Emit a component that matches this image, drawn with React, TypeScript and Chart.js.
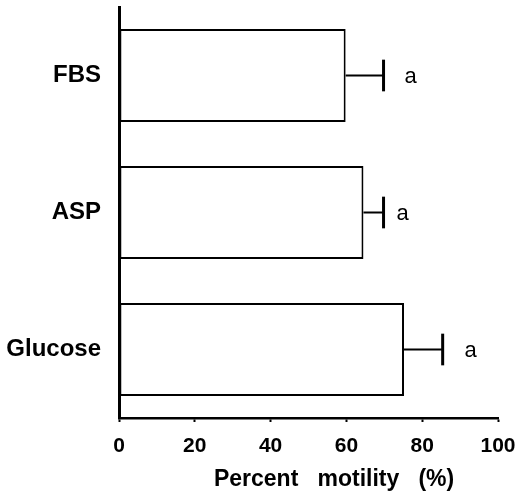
import { useEffect, useRef } from 'react';
import { Chart, registerables } from 'chart.js';

Chart.register(...registerables);

const categories = ['FBS', 'ASP', 'Glucose'];
const motility = [59.8, 64.5, 75.2];
const errors = [10, 5.3, 10.2];
const significance = ['a', 'a', 'a'];
const xTicks = [0, 20, 40, 60, 80, 100];

const FONT = "'Liberation Sans', Arial, sans-serif";
const letterOffsets = [27, 19, 28];

const errorBarPlugin = {
  id: 'errorBars',
  afterDatasetsDraw(chart: any) {
    const ctx = chart.ctx;
    const meta = chart.getDatasetMeta(0);
    const xs = chart.scales.x;
    ctx.save();
    ctx.strokeStyle = '#000';
    ctx.fillStyle = '#000';
    meta.data.forEach((bar: any, i: number) => {
      const p = bar.getProps(['x', 'y', 'height'], true);
      const y = p.y;
      const x0 = xs.getPixelForValue(motility[i]);
      const x1 = xs.getPixelForValue(motility[i] + errors[i]);
      const capH = (p.height * 0.34) / 2;
      ctx.lineWidth = 2;
      ctx.beginPath();
      ctx.moveTo(x0, y);
      ctx.lineTo(x1, y);
      ctx.stroke();
      ctx.lineWidth = 3;
      ctx.beginPath();
      ctx.moveTo(x1, y - capH);
      ctx.lineTo(x1, y + capH);
      ctx.stroke();
      ctx.font = `22px ${FONT}`;
      ctx.textAlign = 'center';
      ctx.textBaseline = 'middle';
      ctx.fillText(significance[i], x1 + letterOffsets[i], y + 1);
    });
    ctx.restore();
  },
};

export default function App() {
  const ref = useRef<HTMLCanvasElement>(null);
  useEffect(() => {
    if (!ref.current) return;
    const chart = new Chart(ref.current, {
      type: 'bar',
      data: {
        labels: categories,
        datasets: [
          {
            data: motility,
            backgroundColor: '#ffffff',
            borderColor: '#000000',
            borderWidth: 2,
            borderSkipped: false,
            barPercentage: 0.68,
            categoryPercentage: 1,
          },
        ],
      },
      options: {
        indexAxis: 'y',
        animation: false,
        responsive: true,
        maintainAspectRatio: false,
        layout: { padding: { top: 7, right: 28, left: 0, bottom: 0 } },
        plugins: { legend: { display: false }, tooltip: { enabled: false } },
        scales: {
          x: {
            min: 0,
            max: 100,
            afterBuildTicks: (s: any) => {
              s.ticks = xTicks.map((v) => ({ value: v }));
            },
            afterFit: (s: any) => {
              s.height = 75;
              s.paddingLeft = 0;
              s.paddingRight = 0;
            },
            grid: {
              display: true,
              drawOnChartArea: false,
              drawTicks: true,
              tickLength: 4,
              tickWidth: 2,
              color: '#000',
            },
            border: { display: true, color: '#000', width: 2.5 },
            ticks: {
              color: '#000',
              padding: 12,
              font: { family: FONT, size: 21, weight: 'bold' },
            },
            title: {
              display: true,
              text: '        Percent   motility   (%)',
              color: '#000',
              padding: { top: 0, bottom: 0 },
              font: { family: FONT, size: 23, weight: 'bold' },
            },
          },
          y: {
            afterFit: (s: any) => {
              s.width = 119;
              s.paddingTop = 0;
              s.paddingBottom = 0;
            },
            grid: { display: false, drawTicks: false },
            border: { display: true, color: '#000', width: 3 },
            ticks: {
              color: '#000',
              padding: 18,
              font: { family: FONT, size: 24, weight: 'bold' },
            },
          },
        },
      },
      plugins: [errorBarPlugin],
    } as any);
    return () => chart.destroy();
  }, []);
  return (
    <div style={{ position: 'absolute', left: 0, top: 0, width: 526, height: 493, background: '#fff' }}>
      <canvas ref={ref} />
    </div>
  );
}
